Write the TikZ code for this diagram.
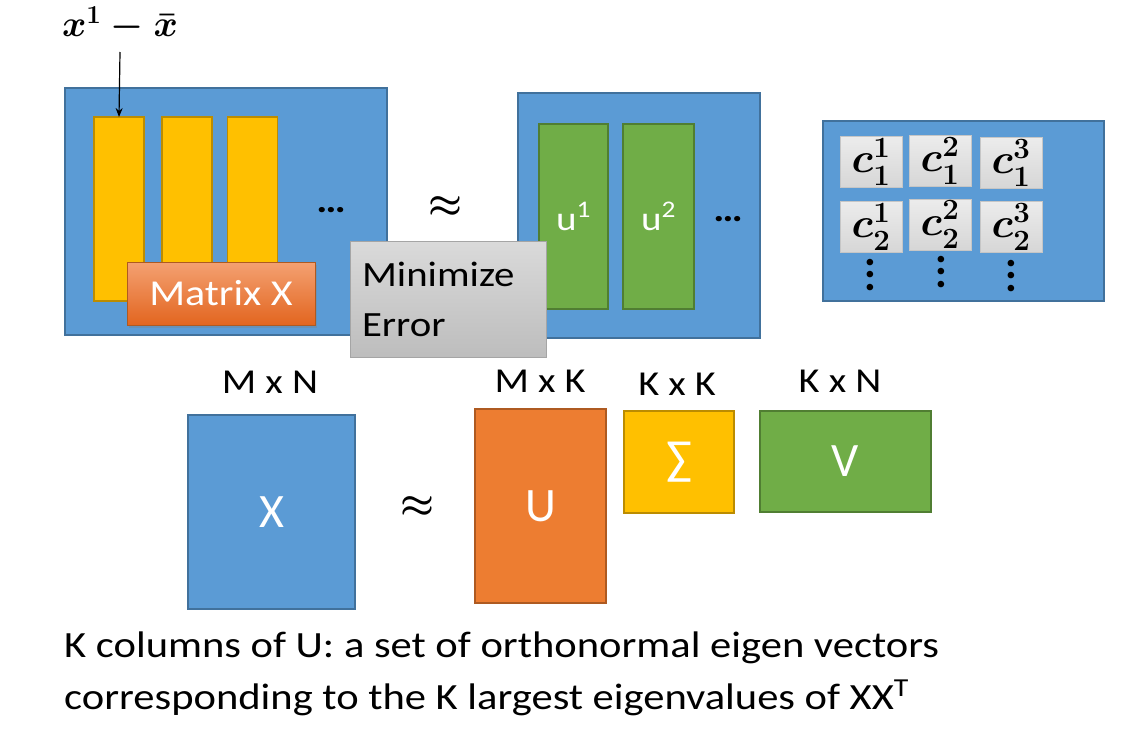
\RequirePackage{fix-cm}
\documentclass[tikz,border=0pt]{standalone}
\usepackage[no-math]{fontspec}
\setmainfont{Carlito}[FakeStretch=1.15]
\newfontfamily\plainfont{Carlito}
\usetikzlibrary{shadows,arrows.meta}
\definecolor{blueF}{HTML}{5B9BD5}
\definecolor{blueD}{HTML}{41719C}
\definecolor{yelF}{HTML}{FFC000}
\definecolor{yelD}{HTML}{BC8C00}
\definecolor{grnF}{HTML}{70AD47}
\definecolor{grnD}{HTML}{507E32}
\definecolor{orF}{HTML}{ED7D31}
\definecolor{orD}{HTML}{AE5A21}
\definecolor{orTop}{HTML}{F4A172}
\definecolor{orBot}{HTML}{E2651F}
\definecolor{gTop}{HTML}{DADADA}
\definecolor{gBot}{HTML}{BDBDBD}
\definecolor{gD}{HTML}{A5A5A5}
\tikzset{
  boxbase/.style={draw, line width=1.3pt, inner sep=0pt, outer sep=0pt},
  bluebox/.style={boxbase, fill=blueF, draw=blueD},
  yelbox/.style={boxbase, fill=yelF, draw=yelD},
  grnbox/.style={boxbase, fill=grnF, draw=grnD},
  orbox/.style={boxbase, fill=orF, draw=orD},
  labeltext/.style={font=\fontsize{35}{40}\selectfont, text=black},
  inlett/.style={text=white, font=\plainfont\fontsize{48}{50}\selectfont},
  cbox/.style={boxbase, line width=0.8pt, draw=gray!45, top color=gray!15, bottom color=gray!32, minimum width=62, minimum height=51, font=\fontsize{42}{46}\selectfont\boldmath},
  hdots/.style={font=\fontsize{36}{40}\selectfont\bfseries},
  vdotsnode/.style={align=center, inner sep=0pt, font=\plainfont\fontsize{44}{12.5}\selectfont\bfseries},
}
\begin{document}
\begin{tikzpicture}[x=1pt,y=-1pt]
\useasboundingbox (0,0) rectangle (1132,734);

% ---- top-left block: Matrix X
\node[bluebox, minimum width=322, minimum height=247] (A) at (226,211.5) {};
\node[yelbox, minimum width=50, minimum height=184] (y1) at (119,209) {};
\node[yelbox, minimum width=50, minimum height=184] (y2) at (187,209) {};
\node[yelbox, minimum width=50, minimum height=184] (y3) at (252.5,209) {};
\node[hdots] (d1) at (331,210) {…};
\node[boxbase, draw=orD, line width=0.8pt, top color=orTop, bottom color=orBot, minimum width=188, minimum height=63, drop shadow={opacity=0.35, shadow xshift=2pt, shadow yshift=-3pt}, text=white, font=\fontsize{36.5}{40}\selectfont] (mx) at (221,293.5) {Matrix X};

\node[font=\fontsize{37}{40}\selectfont\boldmath] (xlab) at (120,24) {$x^{1}-\bar{x}$};
\coordinate (arrS) at (120,52);
\draw[line width=1.2pt, -{Stealth[length=9pt,width=7pt]}] (arrS) -- (y1.north);

% ---- approx top
\node[font=\fontsize{38}{40}\selectfont\boldmath] (ap1) at (445,207) {$\approx$};

% ---- top-middle block: U columns
\node[bluebox, minimum width=242, minimum height=245] (B) at (639,215.5) {};
\node[grnbox, minimum width=69, minimum height=185] (g1) at (573.5,216.5) {};
\node[grnbox, minimum width=71, minimum height=185] (g2) at (658.5,216.5) {};
\node[text=white, font=\fontsize{34}{38}\selectfont] (u1) at (g1.center) {u\textsuperscript{1}};
\node[text=white, font=\fontsize{34}{38}\selectfont] (u2) at (g2.center) {u\textsuperscript{2}};
\node[hdots] (d2) at (728,219) {…};

% ---- Minimize Error box
\node[boxbase, draw=gD, line width=1pt, top color=gTop, bottom color=gBot, minimum width=196, minimum height=116, text width=172, inner xsep=12pt, align=left, font=\fontsize{35.5}{50}\selectfont] (me) at (448,299) {Minimize\\Error};

% ---- top-right block: coefficients
\node[bluebox, minimum width=281, minimum height=180] (C) at (963.5,211) {};
\node[cbox] (c11) at (871,162) {$c_1^1$};
\node[cbox] (c12) at (940,161) {$c_1^2$};
\node[cbox] (c13) at (1011,163) {$c_1^3$};
\node[cbox] (c21) at (871,227) {$c_2^1$};
\node[cbox] (c22) at (940,224.5) {$c_2^2$};
\node[cbox] (c23) at (1011,227) {$c_2^3$};
\node[vdotsnode] (v1) at (870,275) {.\\.\\.};
\node[vdotsnode] (v2) at (941,272) {.\\.\\.};
\node[vdotsnode] (v3) at (1011,276) {.\\.\\.};

% ---- bottom SVD
\node[labeltext] (l1) at (270,382) {M x N};
\node[labeltext] (l2) at (540,381) {M x K};
\node[labeltext] (l3) at (677,384) {K x K};
\node[labeltext] (l4) at (840,381) {K x N};

\node[bluebox, minimum width=167, minimum height=194, inlett] (X) at (271.5,512) {X};
\node[font=\fontsize{38}{40}\selectfont\boldmath] (ap2) at (417,507) {$\approx$};
\node[orbox, minimum width=131, minimum height=194, inlett] (U) at (540.5,506) {U};
\node[yelbox, minimum width=110, minimum height=102, inlett] (S) at (679,462) {∑};
\node[grnbox, minimum width=171, minimum height=101, inlett] (V) at (845.5,461.5) {V};

% ---- caption
\node[anchor=west, align=left, inner sep=0pt, font=\fontsize{37}{52}\selectfont] (cap) at (64,674)
  {K columns of U: a set of orthonormal eigen vectors\\corresponding to the K largest eigenvalues of XX\textsuperscript{T}};
\end{tikzpicture}
\end{document}
